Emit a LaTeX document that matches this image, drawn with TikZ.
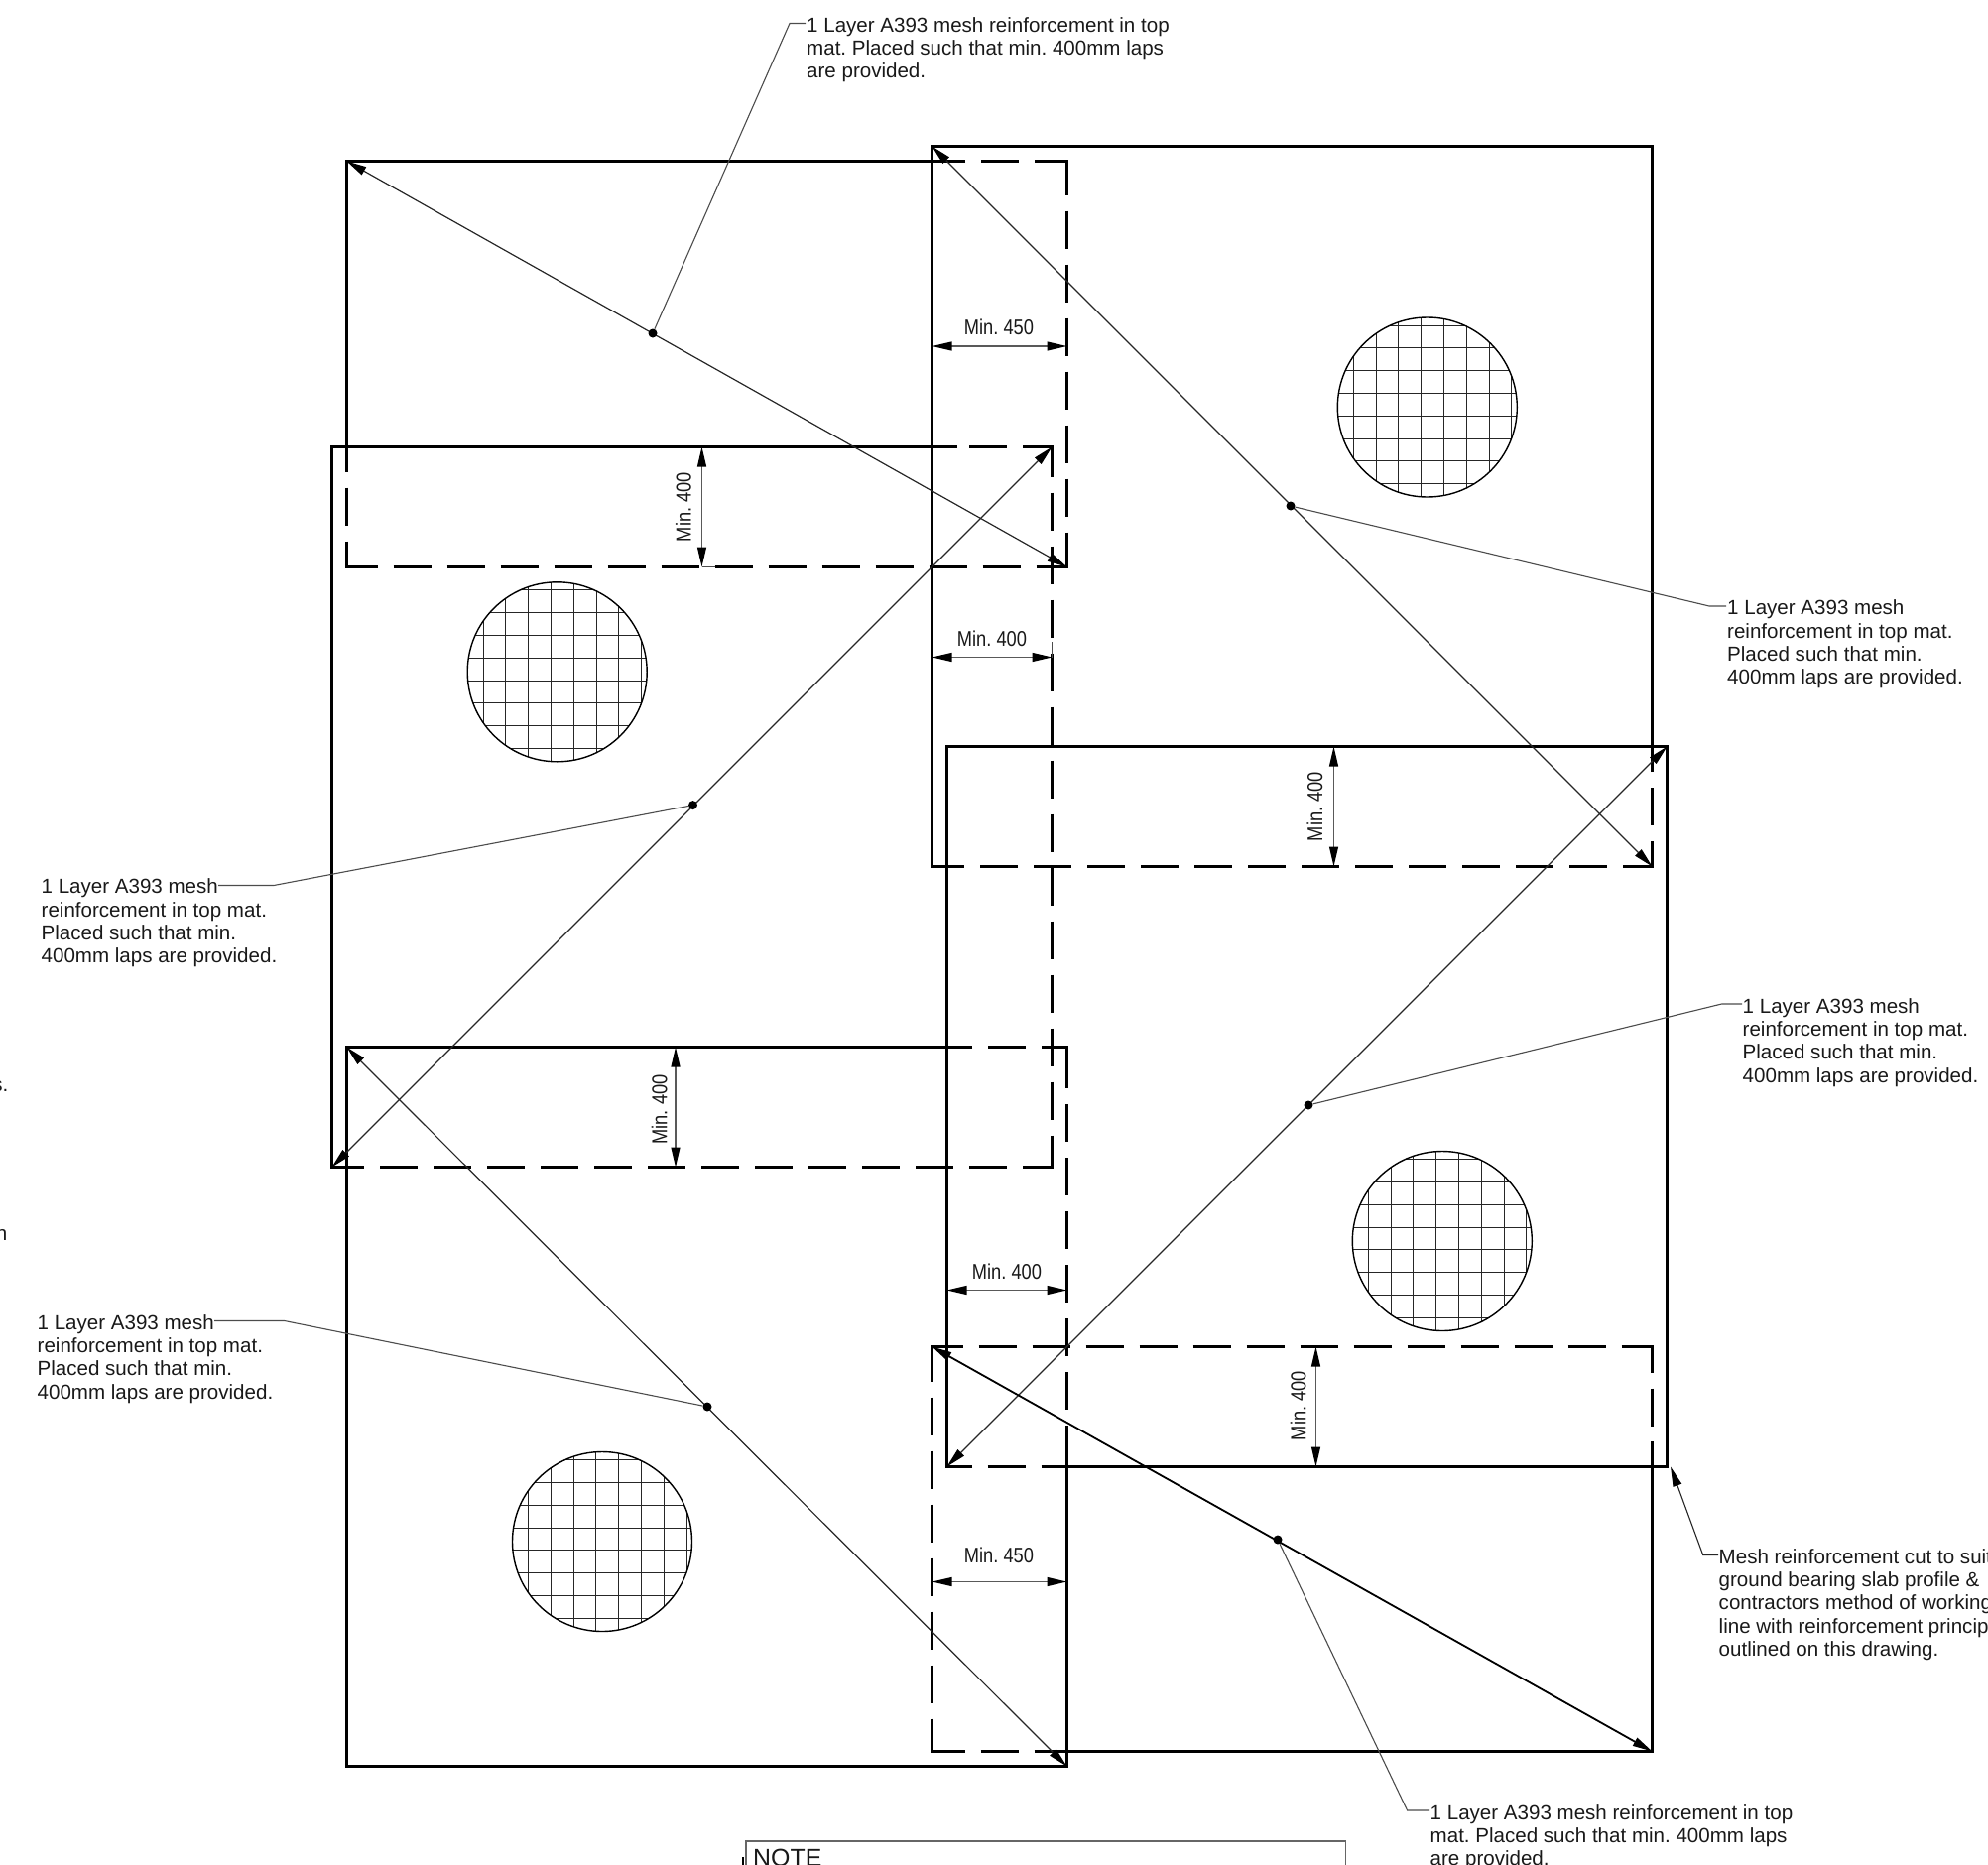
\documentclass[tikz,border=0pt]{standalone}
\usepackage{fontspec}
\setmainfont{Liberation Sans}
\newfontfamily\dimfamily[FakeStretch=0.85]{Liberation Sans}
\usetikzlibrary{arrows.meta}
\frenchspacing
\newcommand{\labelfont}{\fontsize{20.55}{23.3}\selectfont}
\newcommand{\dimfont}{\dimfamily\fontsize{21.5}{24}\selectfont}
\newcommand{\firstline}{\rule{0pt}{15pt}}
\tikzset{
  sheetline/.style={line width=2.8pt,black,line cap=butt,line join=miter},
  dashline/.style={sheetline,dash pattern=on 38pt off 16pt,dash phase=#1},
  diag/.style={line width=1.2pt,black!85,{Triangle[length=20pt,width=9pt,color=black]}-{Triangle[length=20pt,width=9pt,color=black]}},
  boldiag/.style={diag,line width=1.8pt,black},
  dimline/.style={line width=1.2pt,black!65,{Triangle[length=20pt,width=9pt,color=black]}-{Triangle[length=20pt,width=9pt,color=black]}},
  leader/.style={line width=1.1pt,black!70},
  tickline/.style={line width=1pt,black!70},
  dotmark/.style={circle,fill=black,inner sep=0pt,minimum size=9pt},
  notetext/.style={anchor=north west,align=left,inner sep=0pt,font=\labelfont,text=black!90},
  dimlabel/.style={inner sep=0pt,font=\dimfont,text=black!90},
  meshdisc/.style={circle,draw=black,line width=1.4pt,inner sep=0pt,minimum size=181pt},
  gridline/.style={line width=1pt,black!85},
  notebox/.style={line width=1.3pt,black!60}
}
\newcommand{\cornermark}[4]{\draw[sheetline] ({#1+#3},#2) -- (#1,#2) -- (#1,{#2+#4});}
\newcommand{\meshcircle}[3]{%
  \begin{scope}
    \clip (#2,#3) circle (90.5);
    \foreach \k in {-4,...,4} {
      \draw[gridline] ({floor(#2-6.2+22.8*\k)+0.5},{#3-95}) -- ({floor(#2-6.2+22.8*\k)+0.5},{#3+95});
      \draw[gridline] ({#2-95},{floor(#3+8.8+22.8*\k)+0.5}) -- ({#2+95},{floor(#3+8.8+22.8*\k)+0.5});
    }
  \end{scope}
  \node[meshdisc] (#1) at (#2,#3) {};
}
\begin{document}
\begin{tikzpicture}[x=1pt,y=-1pt]
\useasboundingbox (0,0) rectangle (2004,1879);
\clip (0,0) rectangle (2004,1879);
% corners of sheets
\coordinate (Atl) at (349.5,162.5);  \coordinate (Abr) at (1075.5,571.5);
\coordinate (Btr) at (1060.5,450.5); \coordinate (Bbl) at (334.5,1176.5);
\coordinate (Ctl) at (349.5,1055.5);   \coordinate (Cbr) at (1075.5,1780.5);
\coordinate (Dtl) at (939.5,147.5); \coordinate (Dbr) at (1665.5,873.5);
\coordinate (Etr) at (1680.5,752.5); \coordinate (Ebl) at (954.5,1478.5);
\coordinate (Ftl) at (939.5,1357.5); \coordinate (Fbr) at (1665.5,1765.5);
% sheet A
\draw[sheetline] (973,162.5) -- (349.5,162.5) -- (349.5,450.5);
\draw[dashline=5] (1075.5,162.5) -- (973,162.5);
\draw[dashline=4] (1075.5,162.5) -- (1075.5,571.5);
\draw[dashline=13] (349.5,450.5) -- (349.5,571.5);
\draw[dashline=7] (349.5,571.5) -- (1075.5,571.5);
\cornermark{1075.5}{162.5}{-5}{5}
\cornermark{1075.5}{571.5}{-5}{-5}
\cornermark{349.5}{571.5}{5}{-5}
% sheet B
\draw[sheetline] (965,450.5) -- (334.5,450.5) -- (334.5,1176.5) -- (366,1176.5);
\draw[dashline=8] (1060.5,450.5) -- (965,450.5);
\draw[dashline=8] (1060.5,450.5) -- (1060.5,1176.5);
\draw[dashline=8] (1060.5,1176.5) -- (366,1176.5);
\cornermark{1060.5}{450.5}{-5}{5}
\cornermark{1060.5}{1176.5}{-5}{-5}
% sheet C
\draw[sheetline] (980,1055.5) -- (349.5,1055.5) -- (349.5,1780.5) -- (1075.5,1780.5) -- (1075.5,1437);
\draw[dashline=12] (1075.5,1055.5) -- (980,1055.5);
\draw[sheetline] (1075.5,1055.5) -- (1075.5,1097);
\draw[dashline=0] (1075.5,1113) -- (1075.5,1437);
\cornermark{1075.5}{1055.5}{-5}{5}
% sheet D
\draw[sheetline] (1665.5,778) -- (1665.5,147.5) -- (939.5,147.5) -- (939.5,873.5) -- (970,873.5);
\draw[dashline=12] (1665.5,873.5) -- (1665.5,778);
\draw[dashline=8] (1665.5,873.5) -- (939.5,873.5);
\cornermark{1665.5}{873.5}{-5}{-5}
% sheet E
\draw[sheetline] (980,1478.5) -- (954.5,1478.5) -- (954.5,752.5) -- (1680.5,752.5) -- (1680.5,1478.5) -- (1050,1478.5);
\draw[dashline=13] (954.5,1478.5) -- (1050,1478.5);
% sheet F
\draw[dashline=3] (939.5,1357.5) -- (939.5,1765.5);
\draw[dashline=7] (939.5,1357.5) -- (1665.5,1357.5);
\draw[dashline=12] (1665.5,1357.5) -- (1665.5,1453);
\draw[dashline=5] (939.5,1765.5) -- (1043,1765.5);
\draw[sheetline] (1665.5,1453) -- (1665.5,1765.5) -- (1043,1765.5);
\cornermark{939.5}{1357.5}{5}{5}
\cornermark{1665.5}{1357.5}{-5}{5}
\cornermark{939.5}{1765.5}{5}{-5}
% mesh symbols
\meshcircle{mA}{1438.8}{410.5}
\meshcircle{mB}{561.7}{677.3}
\meshcircle{mC}{607}{1554}
\meshcircle{mD}{1453.8}{1251}
% diagonals
\draw[diag] (Atl) -- (Abr);
\draw[diag] (Dtl) -- (Dbr);
\draw[diag] (Btr) -- (Bbl);
\draw[diag] (Etr) -- (Ebl);
\draw[diag] (Ctl) -- (Cbr);
\draw[boldiag] (Ftl) -- (Fbr);
% dots
\node[dotmark] (d1) at (658,336) {};
\node[dotmark] (d2) at (1301,510) {};
\node[dotmark] (d3) at (698.5,811.6) {};
\node[dotmark] (d4) at (1319,1114) {};
\node[dotmark] (d5) at (713,1418) {};
\node[dotmark] (d6) at (1288,1552) {};
% notes
\node[notetext] (t1) at (813,17) {\firstline 1 Layer A393 mesh reinforcement in top\\mat. Placed such that min. 400mm laps\\are provided.};
\node[notetext] (t2) at (1741,604.5) {\firstline 1 Layer A393 mesh\\reinforcement in top mat.\\Placed such that min.\\400mm laps are provided.};
\node[notetext] (t3) at (41.5,885.5) {\firstline 1 Layer A393 mesh\\reinforcement in top mat.\\Placed such that min.\\400mm laps are provided.};
\node[notetext] (t4) at (1756.5,1006) {\firstline 1 Layer A393 mesh\\reinforcement in top mat.\\Placed such that min.\\400mm laps are provided.};
\node[notetext] (t5) at (37.5,1325) {\firstline 1 Layer A393 mesh\\reinforcement in top mat.\\Placed such that min.\\400mm laps are provided.};
\node[notetext] (t6) at (1441.5,1819) {\firstline 1 Layer A393 mesh reinforcement in top\\mat. Placed such that min. 400mm laps\\are provided.};
\node[notetext] (t7) at (1732.5,1561) {\firstline Mesh reinforcement cut to suit\\ground bearing slab profile \&\\contractors method of working\\line with reinforcement princip\\outlined on this drawing.};
\node[notetext,anchor=base east] (frag1) at (8.5,1100) {s.};
\node[notetext,anchor=base east] (frag2) at (7.5,1250) {h};
% leaders
\coordinate (b1) at (796,23.5);   \coordinate (e1) at (812,23.5);
\coordinate (b2) at (1723,611);   \coordinate (e2) at (1740,611);
\coordinate (b3) at (276,892.5);    \coordinate (e3) at (220,892.5);
\coordinate (b4) at (1735.5,1012);\coordinate (e4) at (1756,1012);
\coordinate (b5) at (286.7,1331.5);\coordinate (e5) at (216,1331.5);
\coordinate (b6) at (1418.6,1825);\coordinate (e6) at (1441,1825);
\draw[leader] (d1) -- (b1) -- (e1);
\draw[leader] (d2) -- (b2) -- (e2);
\draw[leader] (d3) -- (b3) -- (e3);
\draw[leader] (d4) -- (b4) -- (e4);
\draw[leader] (d5) -- (b5) -- (e5);
\draw[leader] (d6) -- (b6) -- (e6);
% arrow to sheet E corner
\coordinate (tip7) at (1684,1478.5);
\coordinate (b7) at (1716.7,1567.5);
\coordinate (e7) at (1732,1567.5);
\draw[line width=1.1pt,black!85,{Triangle[length=20pt,width=9pt,color=black]}-] (tip7) -- (b7) -- (e7);
% dimensions
\coordinate (w1a) at (939.5,349); \coordinate (w1b) at (1075.5,349);
\coordinate (w2a) at (939.5,662.5); \coordinate (w2b) at (1060.5,662.5);
\coordinate (w3a) at (954.5,1300.5); \coordinate (w3b) at (1075.5,1300.5);
\coordinate (w4a) at (939.5,1594.5); \coordinate (w4b) at (1075.5,1594.5);
\coordinate (v1a) at (707.5,450.5); \coordinate (v1b) at (707.5,571.5);
\coordinate (v2a) at (1344.5,752.5); \coordinate (v2b) at (1344.5,873.5);
\coordinate (v3a) at (681,1055.5); \coordinate (v3b) at (681,1176.5);
\coordinate (v4a) at (1326.5,1357.5); \coordinate (v4b) at (1326.5,1478.5);
\foreach \p/\q in {w1a/w1b,w2a/w2b,w3a/w3b,w4a/w4b,v1a/v1b,v2a/v2b,v3a/v3b,v4a/v4b}
  \draw[dimline] (\p) -- (\q);
\coordinate (x1) at (1060.5,647); \draw[tickline] (x1) -- (w2b);
\coordinate (x2) at (721,571.5); \draw[tickline] (v1b) -- (x2);
\node[dimlabel] (l1) at (1007,330) {Min. 450};
\node[dimlabel] (l2) at (1000,643.5) {Min. 400};
\node[dimlabel] (l3) at (1015,1282) {Min. 400};
\node[dimlabel] (l4) at (1007,1568) {Min. 450};
\node[dimlabel,rotate=90] (l5) at (689,511) {Min. 400};
\node[dimlabel,rotate=90] (l6) at (1325.5,813) {Min. 400};
\node[dimlabel,rotate=90] (l7) at (664.6,1118.5) {Min. 400};
\node[dimlabel,rotate=90] (l8) at (1308.7,1417) {Min. 400};
% note box
\coordinate (n1) at (752,1885); \coordinate (n2) at (752,1856); \coordinate (n3) at (1356.5,1856); \coordinate (n4) at (1356.5,1885);
\draw[notebox] (n1) -- (n2) -- (n3) -- (n4);
\node[inner sep=0pt,anchor=base west,font=\fontsize{24.9}{28}\selectfont,text=black!90] (nt) at (759,1881) {NOTE};
\coordinate (m1) at (749,1872); \coordinate (m2) at (749,1885);
\draw[line width=2.7pt] (m1) -- (m2);
\end{tikzpicture}
\end{document}
